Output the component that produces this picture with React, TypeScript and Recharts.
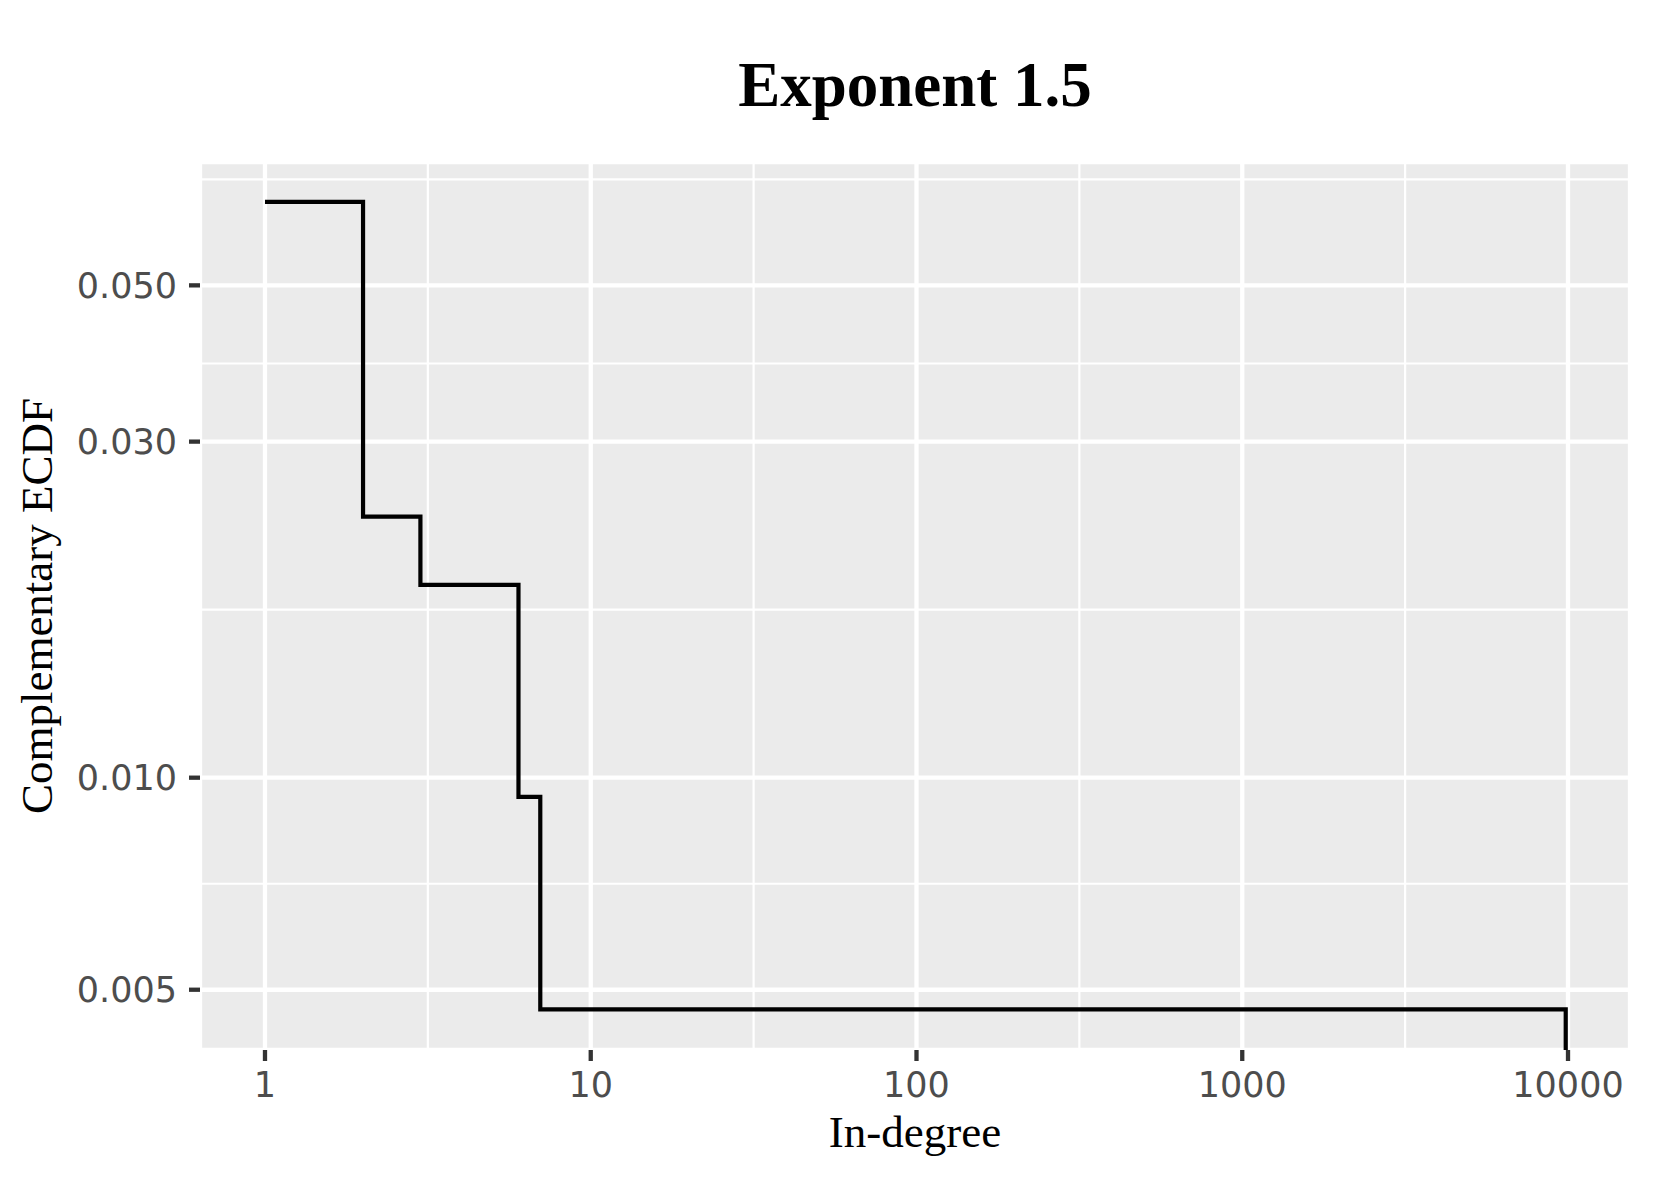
import React from 'react';
import { LineChart, Line, XAxis, YAxis, CartesianGrid, ReferenceLine } from 'recharts';

// ggplot-like complementary ECDF, log-log, grey panel with white grid
const W = 1653;
const H = 1181;

const inDegree = [1, 2, 3, 6, 7, 9840];
// last value is really 0 (drops out of the panel on a log scale)
const ccdf = [0.0657, 0.02347, 0.01878, 0.00939, 0.00469, 0.0001];

const xTicks = [1, 10, 100, 1000, 10000];
const yTicks = [0.005, 0.01, 0.03, 0.05];
const xMinor = [3.162, 31.62, 316.2, 3162];
const yMinor = [0.00707, 0.01732, 0.03873, 0.07071];

const xDomain = [Math.pow(10, -0.1995), Math.pow(10, 4.1903)];
const yDomain = [Math.pow(10, -2.3866), Math.pow(10, -1.1259)];

const C = {
  panel: '#EBEBEB',
  grid: '#FFFFFF',
  tick: '#333333',
  label: '#4D4D4D',
  ink: '#000000',
};

const tickFont = {
  fontFamily: '"DejaVu Sans", sans-serif',
  fontSize: 35,
  fill: C.label,
};

const data = inDegree.map((x, i) => ({ x, y: ccdf[i] }));

export default function App() {
  return (
    <div style={{ position: 'absolute', left: 0, top: 0, width: W, height: H, background: '#fff' }}>
      <LineChart width={W} height={H} data={data} margin={{ top: 162, right: 23, bottom: 0, left: 0 }}>
        <CartesianGrid fill={C.panel} fillOpacity={1} stroke={C.grid} strokeWidth={4.3} />
        {xMinor.map(v => (
          <ReferenceLine key={'x' + v} x={v} stroke={C.grid} strokeWidth={2.2} />
        ))}
        {yMinor.map(v => (
          <ReferenceLine key={'y' + v} y={v} stroke={C.grid} strokeWidth={2.2} />
        ))}
        <XAxis
          dataKey="x"
          type="number"
          scale="log"
          domain={xDomain}
          allowDataOverflow
          ticks={xTicks}
          tickFormatter={(v: number) => String(v)}
          axisLine={false}
          tickSize={11}
          tickMargin={11}
          tickLine={{ stroke: C.tick, strokeWidth: 4.3 }}
          tick={tickFont}
          height={131}
          interval={0}
        />
        <YAxis
          type="number"
          scale="log"
          domain={yDomain}
          allowDataOverflow
          ticks={yTicks}
          tickFormatter={(v: number) => v.toFixed(3)}
          axisLine={false}
          tickSize={11}
          tickMargin={12}
          tickLine={{ stroke: C.tick, strokeWidth: 4.3 }}
          tick={tickFont}
          width={200}
          interval={0}
        />
        <Line
          dataKey="y"
          type="stepAfter"
          stroke={C.ink}
          strokeWidth={4.2}
          strokeLinejoin="miter"
          strokeLinecap="butt"
          dot={false}
          activeDot={false}
          isAnimationActive={false}
        />
      </LineChart>

      {/* titles */}
      <svg
        width={W}
        height={H}
        style={{ position: 'absolute', left: 0, top: 0, pointerEvents: 'none' }}
      >
        <text
          x={915}
          y={106}
          textAnchor="middle"
          style={{ fontFamily: '"Liberation Serif", serif', fontWeight: 700, fontSize: 63, fill: C.ink }}
        >
          Exponent 1.5
        </text>
        <text
          x={915}
          y={1147}
          textAnchor="middle"
          style={{ fontFamily: '"Liberation Serif", serif', fontSize: 45, fill: C.ink }}
        >
          In-degree
        </text>
        <text
          x={52}
          y={606}
          textAnchor="middle"
          transform="rotate(-90 52 606)"
          style={{ fontFamily: '"Liberation Serif", serif', fontSize: 45, fill: C.ink }}
        >
          Complementary ECDF
        </text>
      </svg>
    </div>
  );
}
